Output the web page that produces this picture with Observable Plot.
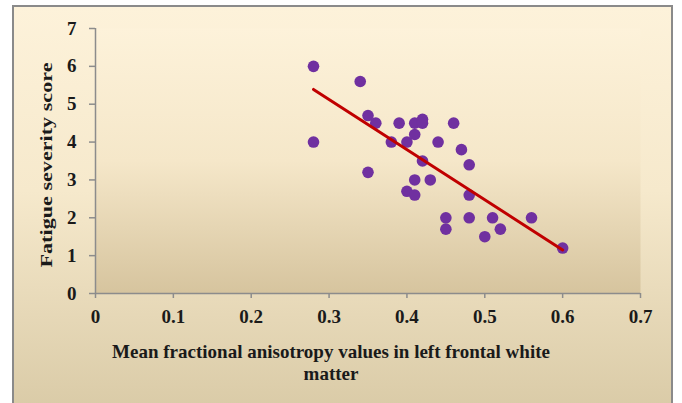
<!DOCTYPE html>
<html>
<head>
<meta charset="utf-8">
<script src="https://cdn.jsdelivr.net/npm/d3@7"></script>
<script src="https://cdn.jsdelivr.net/npm/@observablehq/plot@0.6"></script>
<style>
  html, body { margin: 0; padding: 0; background: #ffffff; }
  #wrap { position: relative; width: 682px; height: 403px; overflow: hidden; }
  #panel {
    position: absolute; left: 12px; top: 5px; width: 661px; height: 410px;
    box-sizing: border-box;
    border: 2px solid #8a8a8a; border-bottom: none;
    background: linear-gradient(to bottom, #fdf2da 0%, #f6e9cc 45%, #d9caa6 100%);
  }
  #chart { position: absolute; left: 0; top: 0; }
</style>
</head>
<body>
<div id="wrap">
  <div id="panel"></div>
  <div id="chart"></div>
</div>
<script>
// Data
const faValues = [0.28, 0.28, 0.34, 0.35, 0.36, 0.35, 0.38, 0.39, 0.40, 0.41, 0.41, 0.42, 0.42, 0.44, 0.46, 0.42,
                  0.43, 0.41, 0.40, 0.41, 0.47, 0.48, 0.48, 0.45, 0.45, 0.48, 0.50, 0.51, 0.52, 0.56, 0.60];
const fatigueScores = [6.0, 4.0, 5.6, 4.7, 4.5, 3.2, 4.0, 4.5, 4.0, 4.5, 4.2, 4.6, 4.5, 4.0, 4.5, 3.5,
                       3.0, 3.0, 2.7, 2.6, 3.8, 3.4, 2.6, 2.0, 1.7, 2.0, 1.5, 2.0, 1.7, 2.0, 1.2];
const trendX = [0.28, 0.60];
const trendY = [5.39, 1.15];
const xTicks = [0, 0.1, 0.2, 0.3, 0.4, 0.5, 0.6, 0.7];
const yTicks = [0, 1, 2, 3, 4, 5, 6, 7];
const xTitle = "Mean fractional anisotropy values in left frontal white\nmatter";
const yTitle = "Fatigue severity score";

const points = faValues.map((x, i) => ({x, y: fatigueScores[i]}));
const trend = trendX.map((x, i) => ({x, y: trendY[i]}));

const axisColor = "#8c8c8c";
const fontFam = "'Liberation Serif', 'Times New Roman', serif";

const plot = Plot.plot({
  width: 682,
  height: 403,
  marginLeft: 95,
  marginRight: 42,
  marginTop: 28,
  marginBottom: 110,
  style: { background: "transparent", fontFamily: fontFam, fontWeight: "bold", fontSize: "19px", color: "#1a1a1a" },
  x: { domain: [0, 0.7] },
  y: { domain: [0, 7] },
  marks: [
    Plot.frame({ fill: "url(#plotGrad)", stroke: "none" }),
    Plot.axisX({ ticks: xTicks, tickFormat: d => d === 0 ? "0" : d3.format(".1f")(d), tickSize: 5, tickPadding: 11,
                 stroke: axisColor, strokeWidth: 1.5, label: null, fill: "#1a1a1a" }),
    Plot.axisY({ ticks: yTicks, tickFormat: d => String(d), tickSize: 6, tickPadding: 13,
                 stroke: axisColor, strokeWidth: 1.5, label: null, fill: "#1a1a1a" }),
    Plot.ruleY([0], { stroke: axisColor, strokeWidth: 1.5 }),
    Plot.ruleX([0], { stroke: axisColor, strokeWidth: 1.5 }),
    Plot.dot(points, { x: "x", y: "y", r: 5.8, fill: "#7030a0", stroke: "none" }),
    Plot.line(trend, { x: "x", y: "y", stroke: "#c00000", strokeWidth: 3 }),
    Plot.text([xTitle], { frameAnchor: "bottom", dy: 48, dx: -37, fontSize: 19, fontWeight: "bold",
                          fill: "#1a1a1a", lineAnchor: "top", lineHeight: 1.2 }),
    Plot.text([yTitle], { frameAnchor: "bottom-left", textAnchor: "start", dx: -44, dy: -26, rotate: -90,
                          fontSize: 17, fontWeight: "bold", fill: "#1a1a1a" })
  ]
});

// gradient for the plot area
const ns = "http://www.w3.org/2000/svg";
const defs = document.createElementNS(ns, "defs");
defs.innerHTML = `<linearGradient id="plotGrad" x1="0" y1="0" x2="0" y2="1">
  <stop offset="0" stop-color="#fdf2da"/>
  <stop offset="0.5" stop-color="#f5e7c9"/>
  <stop offset="1" stop-color="#d6c49e"/>
</linearGradient>`;
plot.insertBefore(defs, plot.firstChild);

// the reference's vertical title is drawn elongated along its length
plot.querySelectorAll("text").forEach(t => {
  if (t.textContent === yTitle) {
    t.setAttribute("textLength", "205");
    t.setAttribute("lengthAdjust", "spacingAndGlyphs");
  }
});

document.getElementById("chart").appendChild(plot);
</script>
</body>
</html>
